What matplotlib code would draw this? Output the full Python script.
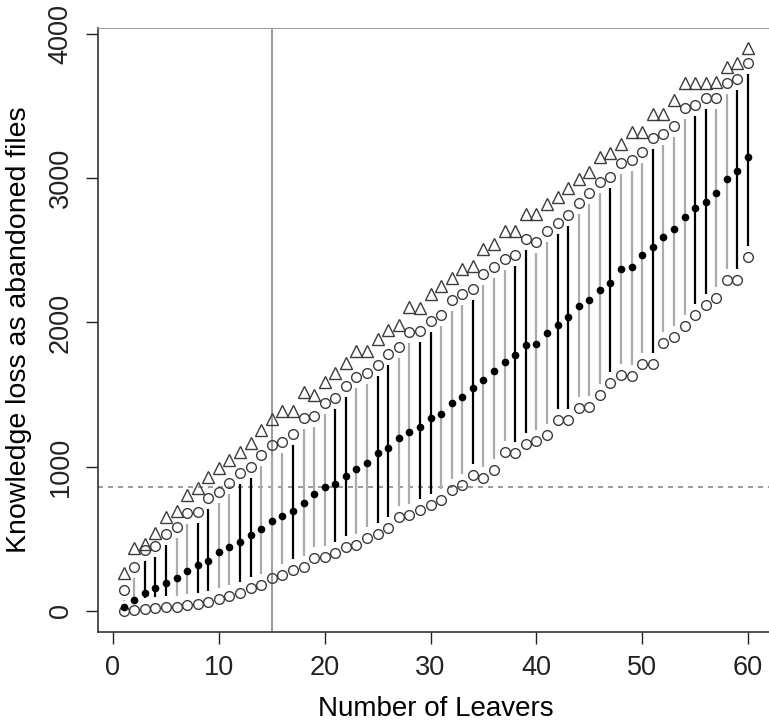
import matplotlib
matplotlib.use("Agg")
import matplotlib.pyplot as plt
import numpy as np

plt.rcParams['font.family'] = ['Liberation Sans', 'DejaVu Sans']

leavers = np.arange(1, 61)

# highest value (triangles)
max_loss = [261, 435, 464, 538, 654, 695, 804, 850, 927, 989,
            1047, 1104, 1162, 1257, 1330, 1389, 1389, 1520, 1500, 1590,
            1648, 1722, 1805, 1805, 1883, 1948, 1983, 2110, 2100, 2196,
            2250, 2306, 2372, 2393, 2510, 2545, 2635, 2635, 2755, 2755,
            2820, 2872, 2930, 2993, 3046, 3150, 3175, 3236, 3323, 3323,
            3445, 3445, 3540, 3660, 3660, 3660, 3665, 3768, 3802, 3901]
# upper bound (open circles above)
upper = [146, 307, 423, 453, 534, 584, 677, 688, 781, 827,
         890, 955, 1000, 1081, 1151, 1170, 1230, 1335, 1352, 1440,
         1479, 1560, 1620, 1648, 1705, 1782, 1828, 1936, 1940, 2012,
         2052, 2153, 2200, 2230, 2335, 2387, 2442, 2468, 2578, 2555,
         2636, 2690, 2742, 2826, 2900, 2976, 3011, 3104, 3127, 3184,
         3277, 3307, 3362, 3485, 3508, 3559, 3559, 3658, 3686, 3797]
# central value (black dots)
center = [30, 76, 122, 157, 196, 226, 280, 319, 349, 409,
          446, 481, 527, 570, 626, 657, 694, 746, 811, 857,
          878, 938, 984, 1028, 1093, 1128, 1197, 1243, 1278, 1336,
          1368, 1444, 1480, 1548, 1603, 1662, 1726, 1775, 1844, 1853,
          1930, 1985, 2036, 2114, 2153, 2225, 2276, 2369, 2387, 2468,
          2526, 2595, 2646, 2734, 2792, 2838, 2896, 2993, 3053, 3150]
# lower bound (open circles below)
lower = [0, 7, 12, 19, 26, 30, 40, 49, 65, 81,
         104, 122, 157, 180, 230, 250, 286, 307, 365, 377,
         400, 441, 458, 504, 534, 573, 649, 666, 702, 735,
         766, 839, 873, 940, 924, 975, 1104, 1098, 1155, 1180,
         1220, 1322, 1322, 1405, 1412, 1500, 1583, 1636, 1629, 1712,
         1712, 1856, 1897, 1975, 2052, 2118, 2172, 2295, 2295, 2456]
# 1 = black segment, 0 = grey segment
dark = [0, 0, 1, 1, 1, 0, 0, 1, 1, 0,
        0, 1, 1, 0, 0, 0, 1, 0, 0, 0,
        1, 1, 0, 0, 1, 1, 0, 0, 1, 1,
        0, 0, 0, 1, 0, 0, 0, 1, 1, 0,
        0, 1, 1, 0, 0, 0, 1, 0, 0, 0,
        1, 0, 0, 0, 1, 1, 0, 0, 1, 1]

ref_leavers = 15
ref_loss = 862

fig = plt.figure(figsize=(7.69, 7.28), dpi=100)
ax = fig.add_axes([0.1274, 0.1319, 0.8778, 0.8297])
ax.set_xlim(-1.42, 62.36)
ax.set_ylim(-146, 4042)

# gap between segment ends and circles, 11 px in data units
gap = 11 * (4042 + 146) / (0.8297 * 728)
lo = np.array(lower) + gap
hi = np.array(upper) - gap
dark = np.array(dark, dtype=bool)
ax.vlines(leavers[dark], lo[dark], hi[dark], color='black', lw=1.6, zorder=2)
ax.vlines(leavers[~dark], lo[~dark], hi[~dark], color='#ababab', lw=1.6, zorder=2)

ax.axvline(ref_leavers, color='#9a9a9a', lw=1.4, zorder=1)
ax.axhline(ref_loss, color='#8a8a8a', lw=1.2, ls=(0, (3, 3)), zorder=1)

ax.plot(leavers, max_loss, ls='none', marker='^', ms=8, mfc='none', mec='#3c3c3c', mew=1.0, zorder=3)
ax.plot(leavers, upper, ls='none', marker='o', ms=7, mfc='none', mec='#3c3c3c', mew=1.0, zorder=3)
ax.plot(leavers, lower, ls='none', marker='o', ms=7, mfc='none', mec='#3c3c3c', mew=1.0, zorder=3)
ax.plot(leavers, center, ls='none', marker='o', ms=4.5, mfc='black', mec='black', zorder=4)

ax.set_xticks(np.arange(0, 61, 10))
ax.set_yticks(np.arange(0, 4001, 1000))
ax.set_yticklabels([str(v) for v in range(0, 4001, 1000)], rotation=90, va='center')
ax.tick_params(direction='out', length=8.5, width=1, colors='#222222', labelsize=19.5)
ax.tick_params(axis='x', pad=8)
ax.tick_params(axis='y', pad=9)
ax.spines['right'].set_visible(False)
ax.spines['top'].set_color('#a0a0a0')
for side in ('left', 'bottom'):
    ax.spines[side].set_color('#333333')
    ax.spines[side].set_linewidth(1.2)

ax.set_xlabel("Number of Leavers", fontsize=20, labelpad=11)
ax.set_ylabel("Knowledge loss as abandoned files", fontsize=20.5, labelpad=11)

fig.savefig("out.png", dpi=100)
